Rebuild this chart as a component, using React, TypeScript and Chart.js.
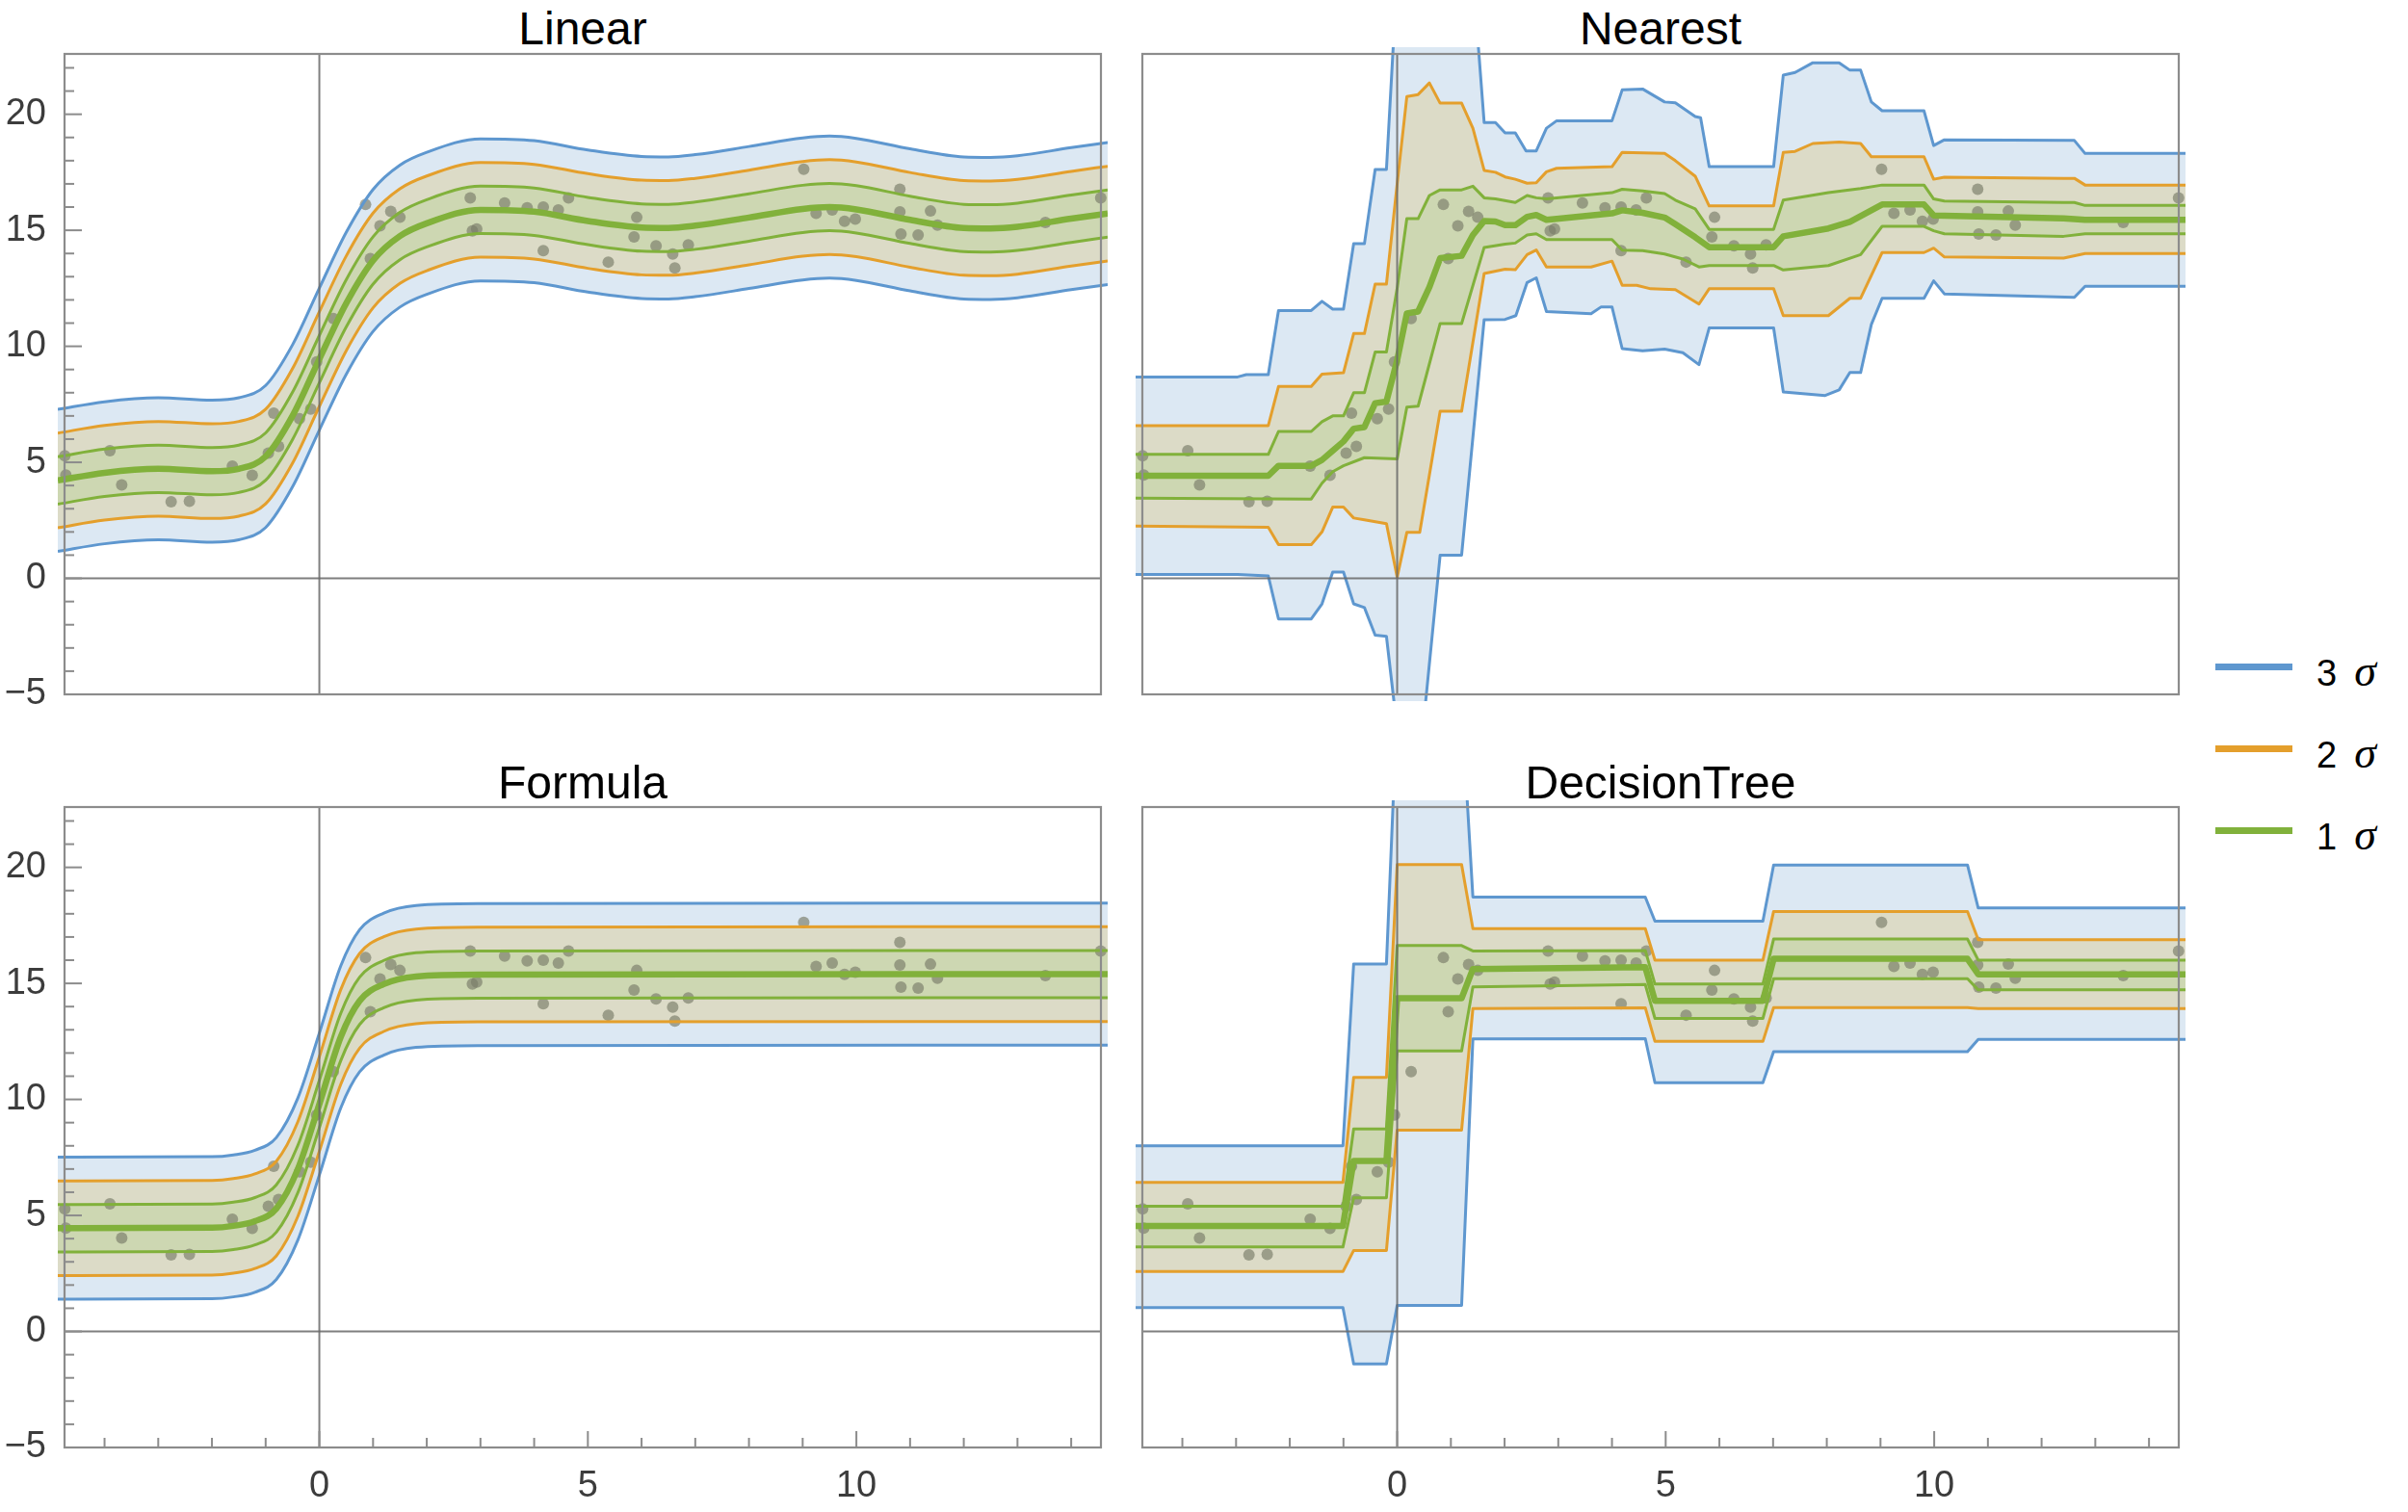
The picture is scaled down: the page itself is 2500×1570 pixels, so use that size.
import React, { useEffect, useRef } from "react";
import { Chart, registerables } from "chart.js";

Chart.register(...registerables);

type XY = [number, number];

// ---------- observations ----------
const pointX = [
  -4.74, -4.72, -3.9, -3.68, -2.76, -2.42, -1.62, -1.25, -0.95, -0.76, -0.85, -0.37, -0.16, -0.05,
  0.26, 0.95, 0.86, 1.13, 1.33, 1.5, 2.81, 2.85, 2.93, 3.45, 3.87, 4.17, 4.45, 4.64, 4.17, 5.38,
  5.86, 5.91, 6.27, 6.58, 6.62, 6.87, 9.02, 9.25, 9.55, 9.78, 9.98, 10.81, 10.81, 10.83, 11.15,
  11.38, 11.51, 13.52, 14.55,
];
const pointY = [
  5.28, 4.45, 5.5, 4.03, 3.3, 3.32, 4.84, 4.44, 5.4, 5.69, 7.12, 6.88, 7.3, 9.33, 11.2, 13.78,
  16.11, 15.19, 15.81, 15.56, 16.4, 14.97, 15.06, 16.18, 15.97, 16.0, 15.88, 16.4, 14.12, 13.63,
  14.71, 15.56, 14.33, 13.98, 13.38, 14.37, 17.63, 15.73, 15.88, 15.39, 15.48, 16.77, 15.79,
  14.84, 14.8, 15.83, 15.22, 15.34, 16.4,
];

// ---------- Linear predictor: mean curve, constant standard deviation ----------
const linearMean: XY[] = [
  [-4.87, 4.22], [-4, 4.55], [-3, 4.72], [-2, 4.62], [-1.5, 4.72], [-1, 5.25], [-0.5, 7.0],
  [0, 9.45], [0.5, 11.85], [1, 13.7], [1.5, 14.75], [2, 15.3], [3, 15.88], [4, 15.8], [5, 15.4],
  [6, 15.12], [6.5, 15.1], [7, 15.2], [8, 15.55], [9, 15.92], [9.5, 16.0], [10, 15.9],
  [11, 15.45], [12, 15.1], [12.5, 15.08], [13, 15.15], [14, 15.5], [14.68, 15.72],
];
const linearSigma = 1.02;

// ---------- Formula predictor ----------
const formulaMean: XY[] = [
  [-4.87, 4.45], [-2, 4.47], [-1.6, 4.55], [-1.2, 4.75], [-0.8, 5.3], [-0.4, 7.0], [0, 9.8],
  [0.4, 12.7], [0.75, 14.25], [1.2, 14.97], [1.8, 15.3], [3, 15.38], [14.68, 15.4],
];
const formulaSigma = 1.02;

// ---------- Nearest predictor: mean and 1σ / 2σ / 3σ envelopes ----------
const nearestMean: XY[] = [
  [-4.87, 4.42], [-2.4, 4.42], [-2.21, 4.85], [-1.6, 4.85], [-1.4, 5.1], [-1.2, 5.5], [-1.0, 5.9],
  [-0.81, 6.45], [-0.61, 6.52], [-0.41, 7.55], [-0.2, 7.62], [0, 9.4], [0.18, 11.42], [0.39, 11.5],
  [0.6, 12.55], [0.8, 13.8], [1.2, 13.9], [1.41, 14.8], [1.62, 15.4], [1.83, 15.38], [2.01, 15.22],
  [2.2, 15.22], [2.42, 15.58], [2.59, 15.66], [2.78, 15.45], [2.97, 15.49], [4.0, 15.73],
  [4.19, 15.86], [4.57, 15.75], [4.98, 15.55], [5.18, 15.26], [5.55, 14.7], [5.81, 14.27],
  [7.01, 14.27], [7.19, 14.74], [8.03, 15.08], [8.43, 15.36], [9.03, 16.11], [9.81, 16.11],
  [9.99, 15.64], [12.41, 15.51], [12.81, 15.45], [14.68, 15.45],
];
const nearest1Upper: XY[] = [
  [-4.87, 5.34], [-2.4, 5.34], [-2.21, 6.33], [-1.6, 6.33], [-1.4, 6.75], [-1.2, 7.0], [-1.0, 7.0],
  [-0.81, 8.0], [-0.61, 8.0], [-0.41, 9.75], [-0.2, 9.75], [0, 12.5], [0.18, 15.5], [0.39, 15.5],
  [0.6, 16.5], [0.8, 16.74], [1.2, 16.74], [1.41, 16.9], [1.62, 16.4], [1.83, 16.35], [2.2, 16.2],
  [2.42, 16.5], [2.59, 16.4], [2.78, 16.35], [4.0, 16.62], [4.19, 16.77], [4.57, 16.7],
  [4.98, 16.58], [5.18, 16.3], [5.55, 15.92], [5.81, 15.04], [7.01, 15.04], [7.19, 16.3],
  [8.03, 16.62], [8.63, 16.8], [9.03, 16.95], [9.81, 16.95], [9.99, 16.35], [10.19, 16.26],
  [12.41, 16.2], [12.61, 16.2], [12.81, 16.07], [14.68, 16.07],
];
const nearest1Lower: XY[] = [
  [-4.87, 3.46], [-1.6, 3.42], [-1.4, 4.1], [-1.2, 4.6], [-1.0, 4.85], [-0.61, 5.2], [0, 5.15],
  [0.18, 7.38], [0.39, 7.42], [0.8, 10.98], [1.2, 10.98], [1.62, 14.26], [2.01, 14.4], [2.2, 14.45],
  [2.42, 14.8], [2.59, 14.85], [2.78, 14.6], [4.0, 14.6], [4.19, 14.14], [4.57, 14.12],
  [4.98, 13.98], [5.32, 13.76], [5.62, 13.42], [5.81, 13.48], [7.01, 13.48], [7.19, 13.29],
  [8.03, 13.48], [8.63, 13.95], [9.03, 15.17], [9.81, 15.17], [9.99, 14.98], [10.19, 14.85],
  [12.41, 14.74], [12.81, 14.85], [14.68, 14.85],
];
const nearest2Upper: XY[] = [
  [-4.87, 6.58], [-2.4, 6.58], [-2.21, 8.27], [-1.6, 8.27], [-1.4, 8.8], [-1.0, 8.86],
  [-0.81, 10.55], [-0.61, 10.55], [-0.41, 12.68], [-0.2, 12.68], [0, 17.0], [0.18, 20.76],
  [0.39, 20.85], [0.6, 21.35], [0.8, 20.48], [1.2, 20.48], [1.41, 19.4], [1.62, 17.58],
  [1.83, 17.5], [2.01, 17.3], [2.2, 17.2], [2.42, 17.03], [2.59, 17.05], [2.78, 17.52],
  [2.97, 17.67], [4.0, 17.74], [4.19, 18.36], [4.98, 18.31], [5.18, 18.0], [5.55, 17.33],
  [5.81, 16.05], [7.01, 16.05], [7.19, 18.36], [7.41, 18.4], [7.74, 18.74], [8.23, 18.8],
  [8.63, 18.74], [8.83, 18.17], [9.81, 18.17], [9.99, 17.2], [10.19, 17.29], [12.41, 17.24],
  [12.61, 17.24], [12.81, 16.95], [14.68, 16.95],
];
const nearest2Lower: XY[] = [
  [-4.87, 2.25], [-2.4, 2.2], [-2.21, 1.45], [-1.6, 1.45], [-1.4, 2.0], [-1.2, 3.07], [-1.0, 3.07],
  [-0.81, 2.6], [-0.61, 2.52], [-0.2, 2.36], [0, 0.05], [0.18, 1.98], [0.42, 1.98], [0.8, 7.2],
  [1.2, 7.2], [1.62, 13.14], [2.01, 13.32], [2.2, 13.3], [2.42, 13.95], [2.59, 14.15],
  [2.78, 13.42], [3.61, 13.42], [4.0, 13.67], [4.19, 12.63], [4.46, 12.63], [4.72, 12.48],
  [5.18, 12.44], [5.62, 11.82], [5.81, 12.48], [7.01, 12.48], [7.19, 11.32], [8.03, 11.32],
  [8.43, 12.07], [8.63, 12.07], [9.03, 14.04], [9.81, 14.04], [9.99, 14.23], [10.19, 13.85],
  [12.41, 13.8], [12.81, 14.0], [14.68, 14.0],
];
const nearest3Upper: XY[] = [
  [-4.87, 8.68], [-2.97, 8.68], [-2.81, 8.78], [-2.4, 8.78], [-2.21, 11.54], [-1.6, 11.54],
  [-1.4, 11.94], [-1.2, 11.6], [-1.0, 11.6], [-0.81, 14.42], [-0.61, 14.42], [-0.41, 17.62],
  [-0.2, 17.62], [0, 26], [1.41, 26], [1.62, 19.64], [1.83, 19.64], [2.01, 19.2], [2.2, 19.2],
  [2.4, 18.42], [2.59, 18.42], [2.78, 19.4], [2.97, 19.72], [4.0, 19.72], [4.19, 21.05],
  [4.57, 21.09], [4.98, 20.53], [5.18, 20.49], [5.55, 19.9], [5.65, 19.85], [5.81, 17.74],
  [7.01, 17.74], [7.19, 21.69], [7.41, 21.8], [7.74, 22.22], [8.23, 22.22], [8.43, 21.9],
  [8.63, 21.9], [8.83, 20.53], [9.03, 20.15], [9.81, 20.15], [9.99, 18.65], [10.19, 18.9],
  [12.61, 18.87], [12.81, 18.31], [14.68, 18.31],
];
const nearest3Lower: XY[] = [
  [-4.87, 0.17], [-2.97, 0.17], [-2.4, 0.1], [-2.21, -1.75], [-1.6, -1.75], [-1.4, -1.1],
  [-1.2, 0.27], [-1.0, 0.27], [-0.81, -1.1], [-0.61, -1.26], [-0.41, -2.45], [-0.2, -2.5],
  [0, -6.5], [0.42, -7.9], [0.8, 1.0], [1.2, 1.0], [1.62, 11.15], [2.01, 11.16], [2.21, 11.32],
  [2.42, 12.75], [2.59, 12.95], [2.78, 11.5], [3.61, 11.4], [3.8, 11.7], [4.0, 11.7],
  [4.19, 9.9], [4.57, 9.81], [4.98, 9.88], [5.32, 9.72], [5.62, 9.21], [5.81, 10.79],
  [7.01, 10.79], [7.19, 8.03], [7.97, 7.88], [8.23, 8.12], [8.43, 8.87], [8.63, 8.87],
  [8.83, 10.94], [9.03, 12.07], [9.81, 12.07], [9.99, 12.82], [10.19, 12.26], [12.61, 12.11],
  [12.81, 12.59], [14.68, 12.59],
];

// ---------- DecisionTree predictor ----------
const treeMean: XY[] = [
  [-4.87, 4.55], [-1.01, 4.55], [-0.81, 7.35], [-0.2, 7.35], [0, 14.36], [1.2, 14.36],
  [1.41, 15.62], [4.62, 15.7], [4.8, 14.25], [6.81, 14.25], [7.01, 16.06], [10.62, 16.06],
  [10.82, 15.39], [14.68, 15.39],
];
const tree1Upper: XY[] = [
  [-4.87, 5.4], [-1.01, 5.4], [-0.81, 8.73], [-0.2, 8.73], [0, 16.63], [1.2, 16.63], [1.41, 16.4],
  [4.62, 16.42], [4.8, 14.97], [6.81, 14.97], [7.01, 16.91], [10.62, 16.91], [10.82, 16.0],
  [14.68, 16.0],
];
const tree1Lower: XY[] = [
  [-4.87, 3.64], [-1.01, 3.64], [-0.81, 5.76], [-0.2, 5.76], [0, 12.09], [1.2, 12.09],
  [1.41, 14.85], [4.62, 14.95], [4.8, 13.49], [6.81, 13.49], [7.01, 15.2], [10.62, 15.2],
  [10.82, 14.72], [14.68, 14.72],
];
const tree2Upper: XY[] = [
  [-4.87, 6.42], [-1.01, 6.42], [-0.81, 10.95], [-0.2, 10.95], [0, 20.12], [1.2, 20.12],
  [1.41, 17.36], [4.62, 17.36], [4.8, 16.0], [6.81, 16.0], [7.01, 18.1], [10.62, 18.1],
  [10.82, 16.88], [14.68, 16.88],
];
const tree2Lower: XY[] = [
  [-4.87, 2.58], [-1.01, 2.58], [-0.81, 3.49], [-0.2, 3.49], [0, 8.68], [1.2, 8.68],
  [1.41, 13.92], [4.62, 13.95], [4.8, 12.5], [6.81, 12.5], [7.01, 13.96], [10.62, 13.96],
  [10.82, 13.92], [14.68, 13.92],
];
const tree3Upper: XY[] = [
  [-4.87, 8.0], [-1.01, 8.0], [-0.81, 15.84], [-0.2, 15.84], [0, 27], [1.2, 27], [1.41, 18.72],
  [4.62, 18.72], [4.8, 17.68], [6.81, 17.68], [7.01, 20.1], [10.62, 20.1], [10.82, 18.25],
  [14.68, 18.25],
];
const tree3Lower: XY[] = [
  [-4.87, 1.03], [-1.01, 1.03], [-0.81, -1.4], [-0.2, -1.4], [0, 1.12], [1.2, 1.12],
  [1.41, 12.61], [4.62, 12.62], [4.8, 10.72], [6.81, 10.72], [7.01, 12.06], [10.62, 12.06],
  [10.82, 12.59], [14.68, 12.59],
];

// ---------- axes ----------
const xTickLabels = [0, 5, 10];
const yTickLabels = [-5, 0, 5, 10, 15, 20];
const xTickMarks = [-4, -3, -2, -1, 0, 1, 2, 3, 4, 5, 6, 7, 8, 9, 10, 11, 12, 13, 14];
const yTickMarks = [
  -5, -4, -3, -2, -1, 0, 1, 2, 3, 4, 5, 6, 7, 8, 9, 10, 11, 12, 13, 14, 15, 16, 17, 18, 19, 20, 21, 22,
];
const legendLevels = ["3", "2", "1"];

// ---------- styling ----------
const BLUE = "rgb(94,151,207)";
const ORANGE = "rgb(228,159,44)";
const GREEN = "rgb(129,177,59)";
const BLUE_FILL = "rgb(220,232,243)";
const ORANGE_FILL = "rgb(220,219,199)";
const GREEN_FILL = "rgb(205,215,178)";
const POINT_FILL = "rgba(122,124,104,0.66)";
const FRAME_COLOR = "rgb(140,140,140)";
const AXIS_COLOR = "rgba(105,105,105,0.85)";
const TICK_TEXT = "rgb(60,60,60)";
const FONT = "'Liberation Sans', Arial, sans-serif";

// frame extent in data units and in pixels
const FRAME_X: [number, number] = [-4.745, 14.554];
const FRAME_Y: [number, number] = [-5, 22.6];
const FRAME_W = 1076;
const FRAME_H = 665;
const BLEED = 7; // curves may run this many pixels past the frame
const LABEL_W = 60;
const LABEL_H = 70;
const PAD = 4;
const UNIT_X = FRAME_W / (FRAME_X[1] - FRAME_X[0]);
const UNIT_Y = FRAME_H / (FRAME_Y[1] - FRAME_Y[0]);
const X_MIN = FRAME_X[0] - BLEED / UNIT_X;
const X_MAX = FRAME_X[1] + BLEED / UNIT_X;
const Y_MIN = FRAME_Y[0] - BLEED / UNIT_Y;
const Y_MAX = FRAME_Y[1] + BLEED / UNIT_Y;
const COL_LEFT = [67, 1186];
const ROW_TOP = [56, 838];
const CANVAS_W = LABEL_W + FRAME_W + 2 * BLEED + PAD;
const CANVAS_H = PAD + FRAME_H + 2 * BLEED + LABEL_H;

type Bands = { mean: XY[]; u1: XY[]; l1: XY[]; u2: XY[]; l2: XY[]; u3: XY[]; l3: XY[] };
type PanelSpec = { title: string; col: number; row: number; smooth: boolean; bands: Bands };

const shift = (curve: XY[], d: number): XY[] => curve.map(([x, y]) => [x, y + d] as XY);
const gaussianBands = (mean: XY[], s: number): Bands => ({
  mean,
  u1: shift(mean, s),
  l1: shift(mean, -s),
  u2: shift(mean, 2 * s),
  l2: shift(mean, -2 * s),
  u3: shift(mean, 3 * s),
  l3: shift(mean, -3 * s),
});

const panels: PanelSpec[] = [
  { title: "Linear", col: 0, row: 0, smooth: true, bands: gaussianBands(linearMean, linearSigma) },
  {
    title: "Nearest", col: 1, row: 0, smooth: false,
    bands: { mean: nearestMean, u1: nearest1Upper, l1: nearest1Lower, u2: nearest2Upper, l2: nearest2Lower, u3: nearest3Upper, l3: nearest3Lower },
  },
  { title: "Formula", col: 0, row: 1, smooth: true, bands: gaussianBands(formulaMean, formulaSigma) },
  {
    title: "DecisionTree", col: 1, row: 1, smooth: false,
    bands: { mean: treeMean, u1: tree1Upper, l1: tree1Lower, u2: tree2Upper, l2: tree2Lower, u3: tree3Upper, l3: tree3Lower },
  },
];

const minusFmt = (v: number) => (v < 0 ? "\u2212" + Math.abs(v) : String(v));

// keep every panel's plot area at the same fixed size, whatever labels it shows
const fixScaleBox = (s: any, key: "width" | "height", size: number) => {
  s[key] = size;
  s.paddingLeft = 0;
  s.paddingRight = 0;
  s.paddingTop = 0;
  s.paddingBottom = 0;
};

function framePlugin(leftTicks: boolean, bottomTicks: boolean) {
  return {
    id: "frameAndAxes",
    afterDatasetsDraw(chart: any) {
      const { ctx } = chart;
      const xs = chart.scales.x;
      const ys = chart.scales.y;
      const l = xs.getPixelForValue(FRAME_X[0]);
      const r = xs.getPixelForValue(FRAME_X[1]);
      const t = ys.getPixelForValue(FRAME_Y[1]);
      const b = ys.getPixelForValue(FRAME_Y[0]);
      const seg = (x1: number, y1: number, x2: number, y2: number) => {
        ctx.beginPath();
        ctx.moveTo(x1, y1);
        ctx.lineTo(x2, y2);
        ctx.stroke();
      };
      ctx.save();
      // axes through the origin
      ctx.strokeStyle = AXIS_COLOR;
      ctx.lineWidth = 2;
      const x0 = xs.getPixelForValue(0);
      const y0 = ys.getPixelForValue(0);
      seg(x0, t, x0, b);
      seg(l, y0, r, y0);
      // frame
      ctx.strokeStyle = FRAME_COLOR;
      ctx.lineWidth = 2.2;
      ctx.strokeRect(l, t, r - l, b - t);
      ctx.lineWidth = 2;
      if (leftTicks) {
        for (const v of yTickMarks) {
          const y = ys.getPixelForValue(v);
          seg(l, y, l + (v % 5 === 0 ? 18 : 10), y);
        }
      }
      if (bottomTicks) {
        for (const v of xTickMarks) {
          const x = xs.getPixelForValue(v);
          seg(x, b, x, b - (v % 5 === 0 ? 17 : 10));
        }
      }
      ctx.restore();
    },
  };
}

function makeConfig(spec: PanelSpec): any {
  const toPts = (a: XY[]) => a.map(([x, y]) => ({ x, y }));
  const curve = (data: XY[], color: string, width: number, fillColor?: string) => ({
    data: toPts(data),
    borderColor: color,
    borderWidth: width,
    pointRadius: 0,
    pointHoverRadius: 0,
    fill: fillColor ? "+1" : false,
    backgroundColor: fillColor ?? "transparent",
    tension: 0,
    cubicInterpolationMode: spec.smooth ? "monotone" : "default",
    borderJoinStyle: "round",
    clip: 0,
  });
  const b = spec.bands;
  const datasets = [
    curve(b.mean, GREEN, 6.5),
    curve(b.u1, GREEN, 3, GREEN_FILL),
    curve(b.l1, GREEN, 3),
    curve(b.u2, ORANGE, 3, ORANGE_FILL),
    curve(b.l2, ORANGE, 3),
    curve(b.u3, BLUE, 3, BLUE_FILL),
    curve(b.l3, BLUE, 3),
    {
      data: pointX.map((x, i) => ({ x, y: pointY[i] })),
      showLine: false,
      pointRadius: 6,
      pointHoverRadius: 6,
      pointBackgroundColor: POINT_FILL,
      pointBorderWidth: 0,
      borderColor: "transparent",
      backgroundColor: POINT_FILL,
      fill: false,
      clip: 0,
    },
  ];
  const showX = spec.row === 1;
  const showY = spec.col === 0;
  return {
    type: "line",
    data: { datasets },
    options: {
      responsive: false,
      devicePixelRatio: 1,
      animation: false,
      events: [],
      layout: { autoPadding: false, padding: { left: 0, top: PAD, right: PAD, bottom: 0 } },
      plugins: {
        legend: { display: false },
        tooltip: { enabled: false },
        title: { display: false },
        filler: { drawTime: "beforeDatasetsDraw", propagate: false },
      },
      scales: {
        x: {
          type: "linear",
          position: "bottom",
          min: X_MIN,
          max: X_MAX,
          grid: { display: false },
          border: { display: false },
          afterBuildTicks: (s: any) => {
            s.ticks = xTickLabels.map((v) => ({ value: v }));
          },
          afterFit: (s: any) => fixScaleBox(s, "height", LABEL_H),
          ticks: {
            display: showX,
            autoSkip: false,
            maxRotation: 0,
            padding: 3,
            color: TICK_TEXT,
            font: { family: FONT, size: 38 },
            callback: (v: any) => minusFmt(Number(v)),
          },
        },
        y: {
          type: "linear",
          position: "left",
          min: Y_MIN,
          max: Y_MAX,
          grid: { display: false },
          border: { display: false },
          afterBuildTicks: (s: any) => {
            s.ticks = yTickLabels.map((v) => ({ value: v }));
          },
          afterFit: (s: any) => fixScaleBox(s, "width", LABEL_W),
          ticks: {
            display: showY,
            autoSkip: false,
            padding: 4,
            color: TICK_TEXT,
            font: { family: FONT, size: 38 },
            callback: (v: any) => minusFmt(Number(v)),
          },
        },
      },
    },
    plugins: [framePlugin(showY, showX)],
  };
}

function Panel({ spec }: { spec: PanelSpec }) {
  const ref = useRef<HTMLCanvasElement | null>(null);
  useEffect(() => {
    if (!ref.current) return;
    const chart = new Chart(ref.current, makeConfig(spec));
    return () => chart.destroy();
  }, [spec]);
  const left = COL_LEFT[spec.col] - BLEED - LABEL_W;
  const top = ROW_TOP[spec.row] - BLEED - PAD;
  const titleCenter = COL_LEFT[spec.col] + FRAME_W / 2;
  const titleTop = spec.row === 0 ? 6 : 789;
  return (
    <>
      <div
        style={{
          position: "absolute",
          left: titleCenter - 400,
          top: titleTop,
          width: 800,
          textAlign: "center",
          font: `48px ${FONT}`,
          lineHeight: "48px",
          color: "#000",
          whiteSpace: "nowrap",
        }}
      >
        {spec.title}
      </div>
      <canvas
        ref={ref}
        width={CANVAS_W}
        height={CANVAS_H}
        style={{ position: "absolute", left, top, width: CANVAS_W, height: CANVAS_H }}
      />
    </>
  );
}

const legendColors = [BLUE, ORANGE, GREEN];
const legendLineY = [692, 777, 862];

export default function App() {
  return (
    <div
      style={{
        position: "absolute",
        left: 0,
        top: 0,
        width: 2500,
        height: 1570,
        background: "#fff",
        overflow: "hidden",
      }}
    >
      {panels.map((p) => (
        <Panel key={p.title} spec={p} />
      ))}
      {legendLevels.map((lvl, i) => (
        <React.Fragment key={lvl}>
          <div
            style={{
              position: "absolute",
              left: 2300,
              top: legendLineY[i] - 3.5,
              width: 80,
              height: 7,
              background: legendColors[i],
            }}
          />
          <div
            style={{
              position: "absolute",
              left: 2405,
              top: legendLineY[i] + 18 - 32,
              font: `38px ${FONT}`,
              lineHeight: "38px",
              color: "#000",
              whiteSpace: "nowrap",
            }}
          >
            {lvl}
            <span
              style={{
                fontStyle: "italic",
                fontFamily: "'Liberation Serif', serif",
                fontSize: 46,
                marginLeft: 18,
              }}
            >
              σ
            </span>
          </div>
        </React.Fragment>
      ))}
    </div>
  );
}
